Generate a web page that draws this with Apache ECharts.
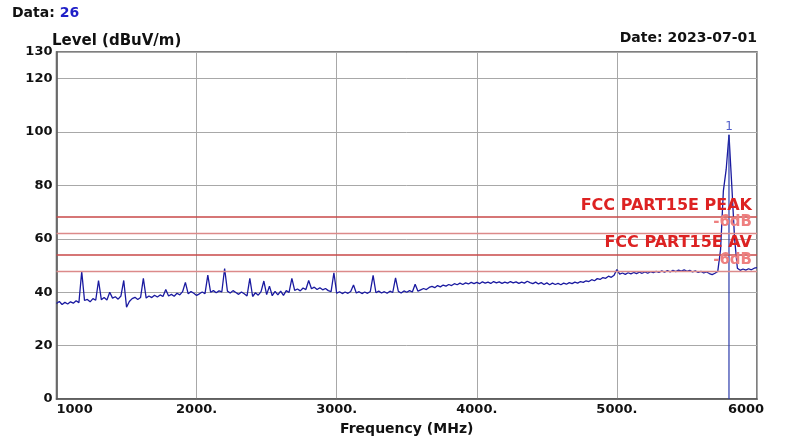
<!DOCTYPE html>
<html>
<head>
<meta charset="utf-8">
<script src="https://cdn.jsdelivr.net/npm/echarts@6/dist/echarts.min.js"></script>
<style>
html,body{margin:0;padding:0;background:#fff;}
#chart{width:792px;height:441px;}
</style>
</head>
<body>
<div id="chart"></div>
<script>
// ---- data ----
const traceStartMHz = 1000;
const traceStepMHz = 20;
const traceLevels = [
  35.8,36.5,35.4,36.2,35.6,36.4,35.9,36.8,36.1,47.7,
  36.9,37.3,36.4,37.6,37.0,44.4,37.2,38.0,37.1,40.0,
  37.8,38.3,37.4,38.6,44.4,34.4,36.5,37.6,38.1,37.3,
  38.0,45.2,37.8,38.6,38.0,38.9,38.2,39.0,38.4,41.0,
  38.6,39.2,38.5,39.6,39.0,40.2,43.7,39.4,40.3,39.6,
  38.8,39.4,40.1,39.5,46.4,40.0,40.6,39.8,40.5,40.1,
  48.9,40.4,39.7,40.6,39.9,39.2,40.1,39.4,38.6,45.2,
  38.4,39.8,38.9,40.2,44.2,39.1,42.3,38.7,40.3,39.0,
  40.4,38.8,40.6,39.9,45.2,40.7,41.2,40.5,41.6,41.0,
  44.4,41.3,41.9,41.0,41.7,40.9,41.4,40.6,40.2,47.3,
  39.6,40.2,39.5,40.1,39.6,40.3,42.7,39.7,40.2,39.5,
  40.1,39.6,40.3,46.3,39.8,40.4,39.7,40.2,39.6,40.4,
  39.9,45.4,40.3,39.7,40.5,40.0,40.6,40.1,43.0,40.4,
  40.9,41.4,41.0,41.8,42.2,41.7,42.5,42.0,42.7,42.3,
  42.9,42.5,43.2,42.8,43.4,42.9,43.5,43.1,43.7,43.2,
  43.7,43.2,43.9,43.4,43.8,43.3,44.0,43.5,43.9,43.3,
  43.8,43.4,44.0,43.5,43.9,43.3,43.8,43.4,44.1,43.6,
  43.2,43.8,43.1,43.6,42.9,43.5,42.8,43.4,42.9,43.3,
  42.8,43.4,43.0,43.6,43.2,43.8,43.4,44.0,43.7,44.3,
  44.0,44.7,44.3,45.1,44.8,45.5,45.2,46.0,45.6,46.4,
  48.5,46.8,47.2,46.7,47.3,46.9,47.4,47.0,47.5,47.1,
  47.6,47.1,47.7,47.3,47.8,47.4,48.0,47.5,48.1,47.6,
  48.2,47.7,48.3,47.9,48.4,47.8,48.2,47.6,48.0,47.4,
  47.8,47.2,47.6,47.0,46.6,47.1,47.8,56.0,78.0,86.0,
  99.0,80.0,60.0,49.0,48.2,48.7,48.3,48.8,48.4,49.0,
  49.2
];
const markerFreq = 5800;
const markerLevel = 99.0;
const markerName = '1';
const limitValues = [68.2, 62.2, 54.0, 48.0];
const limitLabels = ['FCC PART15E PEAK', '-6dB', 'FCC PART15E AV', '-6dB'];
const xTickValues = [1000, 2000, 3000, 4000, 5000, 6000];
const xTickLabels = ['1000', '2000.', '3000.', '4000.', '5000.', '6000'];
const yTickValues = [0, 20, 40, 60, 80, 100, 120, 130];
const yTickLabels = ['0', '20', '40', '60', '80', '100', '120', '130'];
const headerDataLabel = 'Data: ';
const headerDataValue = '26';
const headerDate = 'Date: 2023-07-01';
const yAxisTitle = 'Level (dBuV/m)';
const xAxisTitle = 'Frequency (MHz)';

// ---- chart ----
const FONT = 'DejaVu Sans';
const chart = echarts.init(document.getElementById('chart'), null, {renderer: 'canvas'});
const traceData = traceLevels.map((v, i) => [traceStartMHz + i * traceStepMHz, v]);

const limitStyles = [
  {line: '#c94848', width: 1.5, text: '#dd2222', size: 16, dist: 3},
  {line: '#dc8a8a', width: 1.3, text: '#ee8080', size: 15, dist: 3},
  {line: '#c94848', width: 1.5, text: '#dd2222', size: 16, dist: 4},
  {line: '#dc8a8a', width: 1.3, text: '#ee8080', size: 15, dist: 3}
];

const option = {
  animation: false,
  backgroundColor: '#ffffff',
  grid: {left: 56.5, right: 35, top: 52, bottom: 41, show: true, borderColor: '#555555', borderWidth: 1.5, backgroundColor: '#ffffff', containLabel: false},
  graphic: [
    {type: 'text', left: 12, top: 6, z: 10,
      style: {text: '{a|' + headerDataLabel + '}{b|' + headerDataValue + '}',
        rich: {a: {fontFamily: FONT, fontWeight: 'bold', fontSize: 14, fill: '#111'},
               b: {fontFamily: FONT, fontWeight: 'bold', fontSize: 14, fill: '#2020c8'}}}},
    {type: 'text', left: 52, top: 34, z: 10,
      style: {text: yAxisTitle, fontFamily: FONT, fontWeight: 'bold', fontSize: 15, fill: '#111'}},
    {type: 'text', right: 35, top: 31, z: 10,
      style: {text: headerDate, fontFamily: FONT, fontWeight: 'bold', fontSize: 14, fill: '#111'}}
  ],
  xAxis: {
    type: 'value', min: 1000, max: 6000, interval: 1000,
    name: xAxisTitle, nameLocation: 'middle', nameGap: 23,
    nameTextStyle: {fontFamily: FONT, fontWeight: 'bold', fontSize: 14, color: '#111'},
    axisLine: {show: true, lineStyle: {color: '#555555', width: 1.5}},
    axisTick: {show: false},
    splitLine: {show: true, lineStyle: {color: '#a8a8a8', width: 1}},
    axisLabel: {
      margin: 4, fontFamily: FONT, fontWeight: 'bold', fontSize: 13, color: '#111',
      alignMinLabel: 'left', alignMaxLabel: 'center',
      formatter: function (v) {
        const i = xTickValues.indexOf(v);
        if (i < 0) return '';
        if (i === xTickValues.length - 1) return '{last|' + xTickLabels[i] + '}';
        return xTickLabels[i];
      },
      rich: {last: {fontFamily: FONT, fontWeight: 'bold', fontSize: 13, color: '#111', padding: [0, 22, 0, 0]}}
    }
  },
  yAxis: {
    type: 'value', min: 0, max: 130, interval: 20,
    axisLine: {show: true, lineStyle: {color: '#555555', width: 1.5}},
    axisTick: {show: false},
    splitLine: {show: true, lineStyle: {color: '#a8a8a8', width: 1}},
    axisLabel: {
      margin: 4, fontFamily: FONT, fontWeight: 'bold', fontSize: 13, color: '#111',
      formatter: function (v) {
        const i = yTickValues.indexOf(v);
        return i < 0 ? '' : yTickLabels[i];
      }
    }
  },
  series: [
    {
      name: 'limits', type: 'line', data: [], z: 1, silent: true,
      markLine: {
        silent: true, symbol: ['none', 'none'], animation: false,
        data: limitValues.map((v, i) => ({
          yAxis: v,
          lineStyle: {color: limitStyles[i].line, width: limitStyles[i].width, type: 'solid'},
          label: {show: true, position: 'insideEndTop', distance: [5, limitStyles[i].dist], formatter: limitLabels[i],
            fontFamily: FONT, fontWeight: 'bold', fontSize: limitStyles[i].size, color: limitStyles[i].text}
        }))
      }
    },
    {
      name: 'trace', type: 'line', data: traceData, z: 3, showSymbol: false, symbol: 'none',
      lineStyle: {color: '#1a1aa0', width: 1.3}, silent: true
    },
    {
      name: 'marker', type: 'line', data: [[markerFreq, markerLevel], [markerFreq, 0]], z: 4,
      showSymbol: false, symbol: 'none', lineStyle: {color: '#2a3aaa', width: 1.2}, silent: true
    },
    {
      name: 'markerLabel', type: 'scatter', data: [[markerFreq, markerLevel]], z: 5, symbolSize: 0,
      label: {show: true, position: 'top', distance: 2, formatter: markerName,
        fontFamily: FONT, fontSize: 12, color: '#2233bb'}, silent: true
    }
  ]
};
chart.setOption(option);
</script>
</body>
</html>
